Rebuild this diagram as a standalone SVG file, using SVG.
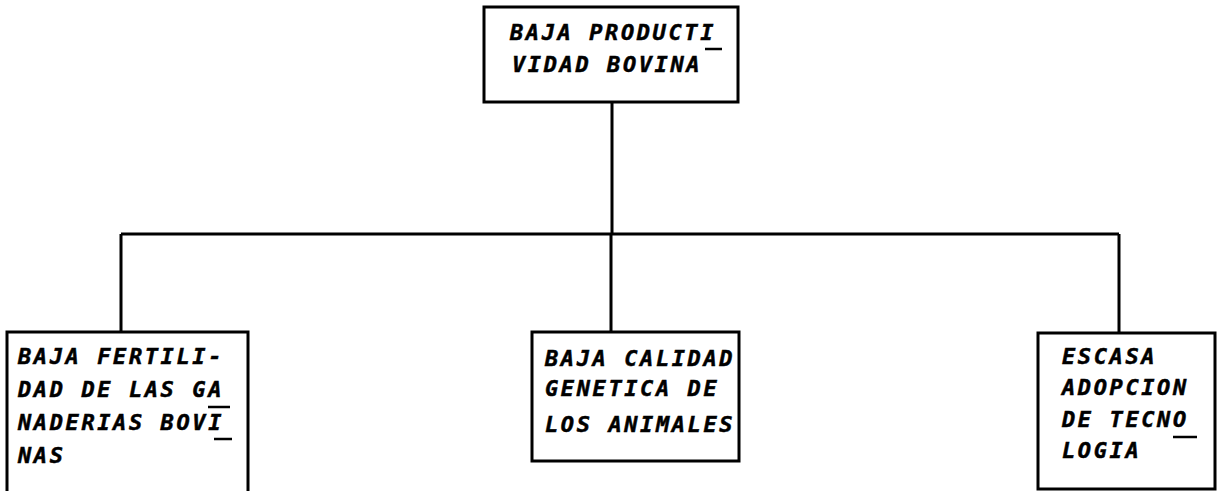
<svg xmlns="http://www.w3.org/2000/svg" width="1219" height="491" viewBox="0 0 1219 491">
<style>
.box{fill:#fff;stroke:#000;stroke-width:3}
.ln{fill:none;stroke:#000;stroke-width:3}
.ul{stroke:#000;stroke-width:2.5}
.t{font-family:"DejaVu Sans Mono","Liberation Mono",monospace;font-weight:700;font-style:italic;font-size:22px;letter-spacing:2.6px;fill:#000;stroke:#000;stroke-width:0.5}
</style>
<rect width="1219" height="491" fill="#fff"/>
<g id="connectors">
<path class="ln" d="M612 102V234M121 234H1119M121 234V332M611 234V332M1119 234V333"/>
</g>
<g id="n-top">
<rect class="box" x="484" y="7" width="254" height="95"/>
<text class="t" x="510" y="40">BAJA PRODUCTI</text>
<text class="t" x="512" y="72">VIDAD BOVINA</text>
<line class="ul" x1="705" y1="49" x2="722" y2="49"/>
</g>
<g id="n-left">
<rect class="box" x="7" y="332" width="241" height="165"/>
<text class="t" x="18" y="364">BAJA FERTILI-</text>
<text class="t" x="18" y="397">DAD DE LAS GA</text>
<text class="t" x="18" y="430">NADERIAS BOVI</text>
<text class="t" x="18" y="463">NAS</text>
<line class="ul" x1="208" y1="407" x2="230" y2="407"/>
<line class="ul" x1="214" y1="439" x2="232" y2="439"/>
</g>
<g id="n-mid">
<rect class="box" x="532" y="332" width="207" height="129"/>
<text class="t" x="545" y="366">BAJA CALIDAD</text>
<text class="t" x="545" y="396">GENETICA DE</text>
<text class="t" x="545" y="432">LOS ANIMALES</text>
</g>
<g id="n-right">
<rect class="box" x="1038" y="333" width="177" height="156"/>
<text class="t" x="1062" y="364">ESCASA</text>
<text class="t" x="1062" y="395">ADOPCION</text>
<text class="t" x="1062" y="427">DE TECNO</text>
<text class="t" x="1062" y="458">LOGIA</text>
<line class="ul" x1="1173" y1="437" x2="1197" y2="437"/>
</g>
</svg>
